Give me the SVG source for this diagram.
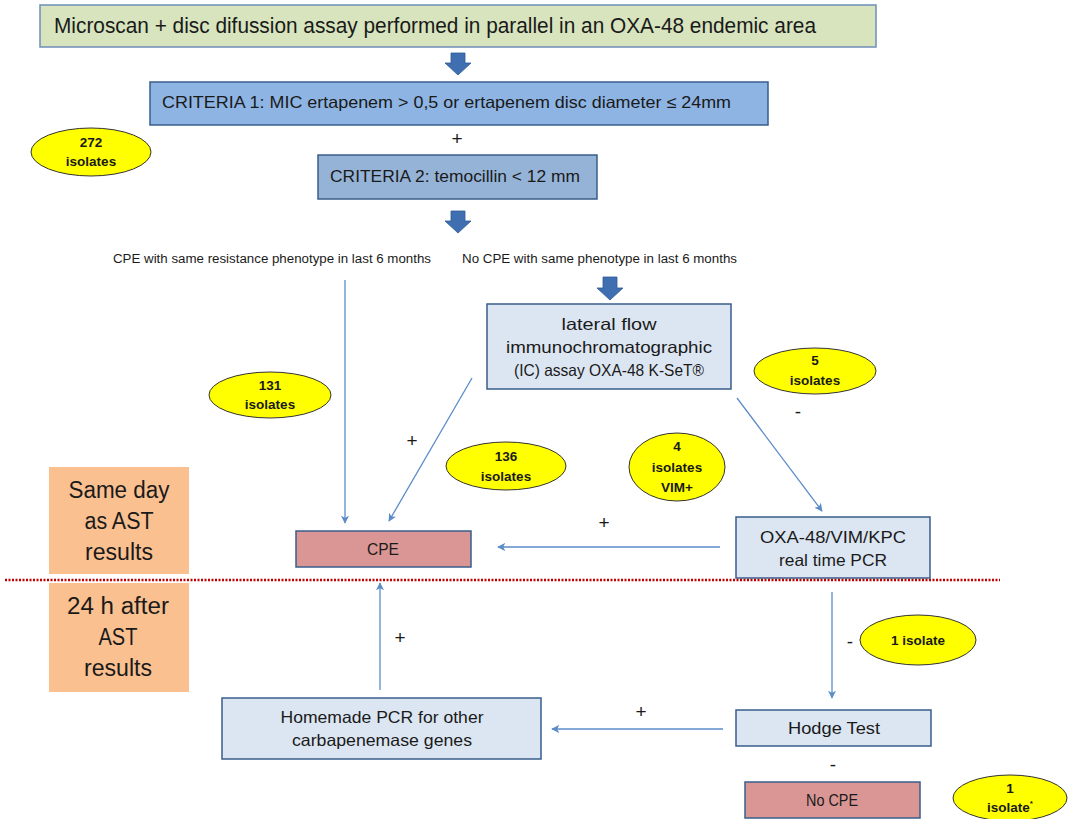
<svg xmlns="http://www.w3.org/2000/svg" width="1070" height="819" viewBox="0 0 1070 819">
<style>
text{font-family:"Liberation Sans",Arial,sans-serif;fill:#1a1a1a}
.box{stroke:#385d8a;stroke-width:1.5}
.lg{fill:#d7e4bd;stroke:#6f8fb8}
.b1{fill:#8eb4e3}
.b2{fill:#95b3d7}
.lb{fill:#dce6f2}
.rd{fill:#d99694}
.or{fill:#fac090}
.el{fill:#ffff00;stroke:#333;stroke-width:1}
.et{font-size:13.5px;font-weight:bold;text-anchor:middle}
.t16{font-size:16.5px;text-anchor:middle}
.t22{font-size:23px;text-anchor:middle}
.sm{font-size:12.5px}
.pm{font-size:19px;text-anchor:middle}
.con line{stroke:#5b8cc8;stroke-width:1.3;fill:none}
.blk{fill:#3f6fb1;stroke:#2f5a96;stroke-width:0.8}
</style>
<defs>
<marker id="ah" viewBox="0 0 10 10" refX="9" refY="5" markerWidth="8" markerHeight="8" orient="auto" markerUnits="userSpaceOnUse">
<path d="M0,0 L10,5 L0,10 L2.5,5 z" fill="#5b8cc8"/>
</marker>
</defs>
<rect width="1070" height="819" fill="#ffffff"/>

<g id="connectors" class="con">
<line x1="345" y1="280" x2="345" y2="523" marker-end="url(#ah)"/>
<line x1="472" y1="378" x2="389" y2="521" marker-end="url(#ah)"/>
<line x1="737" y1="398" x2="822" y2="511" marker-end="url(#ah)"/>
<line x1="720" y1="547" x2="498" y2="547" marker-end="url(#ah)"/>
<line x1="380" y1="690" x2="380" y2="583" marker-end="url(#ah)"/>
<line x1="832" y1="592" x2="832" y2="698" marker-end="url(#ah)"/>
<line x1="723" y1="729" x2="552" y2="729" marker-end="url(#ah)"/>
<path class="blk" d="M451,53 H465 V63 H471 L458,75 L445,63 H451 Z"/>
<path class="blk" d="M451,211 H465 V221 H471 L458,233 L445,221 H451 Z"/>
<path class="blk" d="M603,277 H617 V288 H623 L610,300 L597,288 H603 Z"/>
</g>

<g id="n-top">
<rect class="box lg" x="40" y="5" width="836" height="42"/>
<text x="54" y="33" font-size="21.5" textLength="762" lengthAdjust="spacingAndGlyphs">Microscan + disc difussion assay performed in parallel in an OXA-48 endemic area</text>
</g>
<g id="n-crit1">
<rect class="box b1" x="150" y="82" width="618" height="43"/>
<text x="162" y="108" font-size="16.5" textLength="569" lengthAdjust="spacingAndGlyphs">CRITERIA 1: MIC ertapenem &gt; 0,5 or ertapenem disc diameter  ≤ 24mm</text>
</g>
<text class="pm" x="457" y="145">+</text>
<g id="n-crit2">
<rect class="box b2" x="318" y="155" width="279" height="44"/>
<text x="330" y="182" font-size="16.5" textLength="250" lengthAdjust="spacingAndGlyphs">CRITERIA 2: temocillin &lt; 12 mm</text>
</g>
<g id="e-272">
<ellipse class="el" cx="91" cy="152" rx="60" ry="24"/>
<text class="et" x="91" y="147">272</text>
<text class="et" x="91" y="166">isolates</text>
</g>
<g id="l-cpe-hist">
<text class="sm" x="113" y="263" textLength="318" lengthAdjust="spacingAndGlyphs">CPE with same resistance phenotype  in last 6 months</text>
</g>
<g id="l-nocpe-hist">
<text class="sm" x="462" y="263" textLength="275" lengthAdjust="spacingAndGlyphs">No CPE with same phenotype  in last 6 months</text>
</g>
<g id="n-ic">
<rect class="box lb" x="487" y="304" width="244" height="85"/>
<text class="t16" x="609" y="330" textLength="95" lengthAdjust="spacingAndGlyphs">lateral flow</text>
<text class="t16" x="609" y="353" textLength="206" lengthAdjust="spacingAndGlyphs">immunochromatographic</text>
<text class="t16" x="609" y="376" textLength="190" lengthAdjust="spacingAndGlyphs">(IC) assay OXA-48 K-SeT®</text>
</g>
<g id="e-131">
<ellipse class="el" cx="270" cy="395" rx="61" ry="23"/>
<text class="et" x="270" y="390">131</text>
<text class="et" x="270" y="409">isolates</text>
</g>
<g id="e-5">
<ellipse class="el" cx="815" cy="371" rx="61" ry="23"/>
<text class="et" x="815" y="365">5</text>
<text class="et" x="815" y="385">isolates</text>
</g>
<text class="pm" x="412" y="447">+</text>
<text class="pm" x="798" y="418">-</text>
<g id="e-136">
<ellipse class="el" cx="506" cy="466" rx="60" ry="24"/>
<text class="et" x="506" y="461">136</text>
<text class="et" x="506" y="481">isolates</text>
</g>
<g id="e-4">
<ellipse class="el" cx="677" cy="467" rx="48" ry="34"/>
<text class="et" x="677" y="451">4</text>
<text class="et" x="677" y="472">isolates</text>
<text class="et" x="677" y="492">VIM+</text>
</g>
<g id="n-sameday">
<rect class="or" x="49" y="467" width="140" height="107"/>
<text class="t22" x="119" y="498" textLength="101" lengthAdjust="spacingAndGlyphs">Same day</text>
<text class="t22" x="119" y="529" textLength="69" lengthAdjust="spacingAndGlyphs">as AST</text>
<text class="t22" x="119" y="560" textLength="68" lengthAdjust="spacingAndGlyphs">results</text>
</g>
<g id="n-cpe">
<rect class="box rd" x="296" y="531" width="175" height="36"/>
<text class="t16" x="383" y="555" textLength="32" lengthAdjust="spacingAndGlyphs">CPE</text>
</g>
<text class="pm" x="604" y="529">+</text>
<g id="n-pcr">
<rect class="box lb" x="736" y="517" width="194" height="61"/>
<text class="t16" x="833" y="543" textLength="146" lengthAdjust="spacingAndGlyphs">OXA-48/VIM/KPC</text>
<text class="t16" x="833" y="566" textLength="108" lengthAdjust="spacingAndGlyphs">real time PCR</text>
</g>
<line x1="5" y1="580" x2="1000" y2="580" stroke="#c00000" stroke-width="2.5" stroke-dasharray="2 1.5"/>
<g id="n-24h">
<rect class="or" x="49" y="583" width="140" height="109"/>
<text class="t22" x="118" y="614" textLength="102" lengthAdjust="spacingAndGlyphs">24 h after</text>
<text class="t22" x="118" y="645" textLength="39" lengthAdjust="spacingAndGlyphs">AST</text>
<text class="t22" x="118" y="676" textLength="68" lengthAdjust="spacingAndGlyphs">results</text>
</g>
<text class="pm" x="400" y="644">+</text>
<text class="pm" x="850" y="648">-</text>
<g id="e-1">
<ellipse class="el" cx="918" cy="640" rx="58" ry="25"/>
<text class="et" x="918" y="645">1 isolate</text>
</g>
<g id="n-homemade">
<rect class="box lb" x="222" y="698" width="319" height="61"/>
<text class="t16" x="382" y="723" textLength="203" lengthAdjust="spacingAndGlyphs">Homemade PCR for other</text>
<text class="t16" x="382" y="746" textLength="180" lengthAdjust="spacingAndGlyphs">carbapenemase genes</text>
</g>
<text class="pm" x="641" y="718">+</text>
<g id="n-hodge">
<rect class="box lb" x="736" y="710" width="195" height="36"/>
<text class="t16" x="834" y="734" textLength="92" lengthAdjust="spacingAndGlyphs">Hodge Test</text>
</g>
<text class="pm" x="833" y="771">-</text>
<g id="n-nocpe">
<rect class="box rd" x="745" y="782" width="175" height="36"/>
<text class="t16" x="832" y="806" textLength="52" lengthAdjust="spacingAndGlyphs">No CPE</text>
</g>
<g id="e-1s">
<ellipse class="el" cx="1010" cy="798" rx="57" ry="23"/>
<text class="et" x="1010" y="793">1</text>
<text class="et" x="1010" y="812">isolate<tspan font-size="8" dy="-6">*</tspan></text>
</g>
</svg>
